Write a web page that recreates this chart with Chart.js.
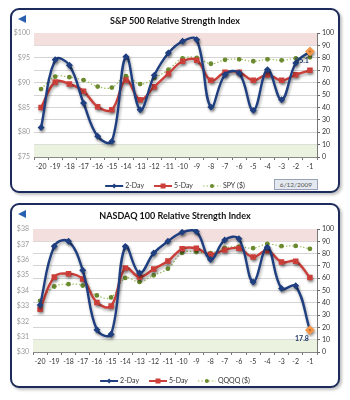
<!DOCTYPE html>
<html><head><meta charset="utf-8">
<script src="https://cdn.jsdelivr.net/npm/chart.js@4/dist/chart.umd.min.js"></script>
<style>
html,body{margin:0;padding:0;background:#fff;width:350px;height:400px;overflow:hidden;font-family:Lato,"Liberation Sans",sans-serif}
.panel{position:absolute;left:10px;width:326px;height:181px;border:2px solid #1c2b5c;border-radius:9px;box-shadow:2px 2px 3px rgba(0,0,0,0.25);background:#fff}
.wrap{position:absolute;left:10px;width:330px;height:185px}
.title{position:absolute;left:0;width:350px;text-align:center;font-weight:bold;font-size:9px;color:#111}
.tri{position:absolute;width:0;height:0;border-top:4.5px solid transparent;border-bottom:4.5px solid transparent;border-right:8px solid #2b5fb0}
.date{position:absolute;left:274px;top:179px;width:42px;height:9px;border:1px solid #9aa3b5;background:#e4e8f0;font-size:6.5px;color:#555;text-align:center;line-height:9px}
</style></head>
<body>
<div class="panel" style="top:8px"></div>
<div class="panel" style="top:203px"></div>
<div class="tri" style="left:18px;top:15px"></div>
<div class="tri" style="left:18px;top:210px"></div>
<div class="wrap" style="top:10px"><canvas id="c1" width="330" height="185"></canvas></div>
<div class="wrap" style="top:205px"><canvas id="c2" width="330" height="185"></canvas></div>
<div class="title" style="top:15px">S&amp;P 500 Relative Strength Index</div>
<div class="title" style="top:210px">NASDAQ 100 Relative Strength Index</div>
<div class="date">6/12/2009</div>
<script>
const categories = ['-20','-19','-18','-17','-16','-15','-14','-13','-12','-11','-10','-9','-8','-7','-6','-5','-4','-3','-2','-1'];
const spx2Day = [23.7, 78.5, 73.9, 43.5, 16.7, 12.6, 80.9, 38.2, 65.9, 83.9, 93.3, 94.6, 40.3, 66.4, 67.7, 37.6, 70.4, 46.2, 75.8, 85.1];
const spx5Day = [40.0, 60.5, 58.9, 53.0, 40.6, 38.2, 62.0, 46.2, 56.7, 67.2, 77.2, 78.0, 61.8, 68.3, 68.3, 61.8, 66.4, 61.8, 66.4, 69.9];
const spyPrice = [88.7, 91.2, 91.1, 90.5, 89.2, 89.0, 91.3, 89.7, 90.9, 92.6, 94.9, 95.0, 93.8, 94.6, 94.7, 94.3, 94.7, 94.5, 94.9, 95.1];
const ndx2Day = [38.2, 86.0, 90.0, 66.4, 18.0, 14.5, 85.8, 64.2, 80.4, 90.0, 97.3, 98.0, 75.3, 91.0, 92.0, 57.0, 85.2, 51.6, 53.8, 17.8];
const ndx5Day = [34.7, 61.0, 63.7, 59.4, 40.3, 37.4, 68.3, 61.0, 67.5, 73.9, 83.9, 84.4, 79.3, 83.0, 84.4, 77.2, 82.5, 73.1, 73.7, 60.5];
const qqqqPrice = [33.33, 34.26, 34.41, 34.32, 33.68, 33.55, 34.82, 34.56, 34.99, 35.42, 36.45, 36.50, 36.43, 36.77, 36.86, 36.75, 37.03, 36.88, 36.90, 36.71];
const rsiTicks = [0,10,20,30,40,50,60,70,80,90,100];
const spyTicks = [75,80,85,90,95,100];
const qqqqTicks = [30,31,32,33,34,35,36,37,38];

const FONT = 'Lato, "Liberation Sans", sans-serif';
Chart.defaults.font.family = FONT;
Chart.defaults.font.size = 7;

const BLUE = '#1f3f80', RED = '#cc3f3a', GREEN = '#9bbb59', GMARK = '#6b8a2e', ORANGE = '#f79646';

const bandPlugin = {
  id: 'bands',
  beforeDatasetsDraw(chart) {
    const {ctx, chartArea: a} = chart; const y = chart.scales.y2;
    ctx.save();
    ctx.fillStyle = '#f3dfde';
    ctx.fillRect(a.left, y.getPixelForValue(100), a.right - a.left, y.getPixelForValue(90) - y.getPixelForValue(100));
    ctx.fillStyle = '#ecf2e0';
    ctx.fillRect(a.left, y.getPixelForValue(10), a.right - a.left, y.getPixelForValue(0) - y.getPixelForValue(10));
    ctx.restore();
  }
};
const shadowPlugin = {
  id: 'shadow',
  beforeDatasetDraw(chart, args) {
    const ctx = chart.ctx; ctx.save();
    if (args.index < 2) { ctx.shadowColor = 'rgba(0,0,0,0.35)'; ctx.shadowBlur = 3; ctx.shadowOffsetX = 1; ctx.shadowOffsetY = 2; }
  },
  afterDatasetDraw(chart) { chart.ctx.restore(); }
};
const labelPlugin = {
  id: 'lastLabel',
  afterDatasetsDraw(chart) {
    const meta = chart.getDatasetMeta(0); const n = meta.data.length - 1; const p = meta.data[n];
    const v = chart.data.datasets[0].data[n];
    const ctx = chart.ctx; ctx.save();
    ctx.font = 'bold 7px ' + FONT; ctx.fillStyle = '#1f3864'; ctx.textAlign = 'right'; ctx.textBaseline = 'middle';
    ctx.fillText(v.toFixed(1), p.x - 1, p.y + 9);
    ctx.restore();
  }
};
const legendPlugin = {
  id: 'legendx',
  afterDraw(chart) {
    const ctx = chart.ctx; const ds = chart.data.datasets;
    ctx.save(); ctx.font = '7px ' + FONT; ctx.textBaseline = 'middle';
    const lineW = 18, gap1 = 2, gap2 = 10;
    let total = 0; ds.forEach((d, i) => { total += lineW + gap1 + ctx.measureText(d.label).width + (i < ds.length - 1 ? gap2 : 0); });
    let x = 165 - total / 2; const y = 176;
    ds.forEach((d) => {
      ctx.strokeStyle = d.borderColor; ctx.lineWidth = d.borderDash ? 1.2 : 2;
      ctx.setLineDash(d.borderDash || []);
      ctx.beginPath(); ctx.moveTo(x, y); ctx.lineTo(x + lineW, y); ctx.stroke(); ctx.setLineDash([]);
      const cx = x + lineW / 2; ctx.fillStyle = d.legendMark;
      if (d.pointStyle === 'rectRot') { ctx.beginPath(); ctx.moveTo(cx, y - 2.5); ctx.lineTo(cx + 2.5, y); ctx.lineTo(cx, y + 2.5); ctx.lineTo(cx - 2.5, y); ctx.fill(); }
      else if (d.pointStyle === 'rect') ctx.fillRect(cx - 2.5, y - 2.5, 5, 5);
      else { ctx.beginPath(); ctx.arc(cx, y, 2, 0, Math.PI * 2); ctx.fill(); }
      x += lineW + gap1; ctx.fillStyle = '#333'; ctx.fillText(d.label, x, y);
      x += ctx.measureText(d.label).width + gap2;
    });
    ctx.restore();
  }
};

function makeChart(id, r2, r5, price, priceLabel, pmin, pmax, ticksList, leftW, topPad) {
  const n = r2.length;
  const ptColors = r2.map((v, i) => i === n - 1 ? ORANGE : BLUE);
  const ptRad = r2.map((v, i) => i === n - 1 ? 3.2 : 1.8);
  return new Chart(document.getElementById(id), {
    type: 'line',
    data: {
      labels: categories,
      datasets: [
        { label: '2-Day', data: r2, yAxisID: 'y2', borderColor: BLUE, borderWidth: 2.4, tension: 0.4,
          pointStyle: 'rectRot', pointRadius: ptRad, pointBackgroundColor: ptColors, pointBorderColor: ptColors, legendMark: BLUE, order: 1 },
        { label: '5-Day', data: r5, yAxisID: 'y2', borderColor: RED, borderWidth: 2.4, tension: 0.4,
          pointStyle: 'rect', pointRadius: 2.2, pointBackgroundColor: RED, pointBorderColor: RED, legendMark: RED, order: 2 },
        { label: priceLabel, data: price, yAxisID: 'y', borderColor: GREEN, borderWidth: 1.2, borderDash: [1.5, 2], tension: 0.4,
          pointStyle: 'circle', pointRadius: 1.8, pointBackgroundColor: GMARK, pointBorderColor: GMARK, legendMark: GMARK, order: 3 }
      ]
    },
    options: {
      responsive: false, animation: false,
      layout: { padding: { top: topPad, bottom: 18, left: 0, right: 0 } },
      plugins: { legend: { display: false }, tooltip: { enabled: false } },
      scales: {
        x: { offset: true, grid: { offset: true, drawOnChartArea: false, drawTicks: true, tickLength: 3, tickColor: '#777' },
             border: { color: '#888' }, ticks: { color: '#333', padding: 3, maxRotation: 0, autoSkip: false },
             afterFit(s) { s.height = 20; } },
        y: { position: 'left', min: pmin, max: pmax,
             grid: { drawOnChartArea: false, drawTicks: false }, border: { display: false },
             afterBuildTicks(s) { s.ticks = ticksList.map(v => ({ value: v })); },
             ticks: { color: '#999', padding: 4, callback: v => '$' + v },
             afterFit(s) { s.width = leftW; } },
        y2: { position: 'right', min: 0, max: 100,
              grid: { color: '#d4d4d4', lineWidth: 1, drawTicks: true, tickLength: 3, tickColor: '#666' },
              border: { color: '#777' },
              afterBuildTicks(s) { s.ticks = rsiTicks.map(v => ({ value: v })); },
              ticks: { color: '#333', padding: 2 },
              afterFit(s) { s.width = 23; } }
      }
    },
    plugins: [bandPlugin, shadowPlugin, labelPlugin, legendPlugin]
  });
}
makeChart('c1', spx2Day, spx5Day, spyPrice, 'SPY ($)', 75, 100, spyTicks, 24, 23);
makeChart('c2', ndx2Day, ndx5Day, qqqqPrice, 'QQQQ ($)', 30, 38, qqqqTicks, 23, 24);
</script>
</body></html>
